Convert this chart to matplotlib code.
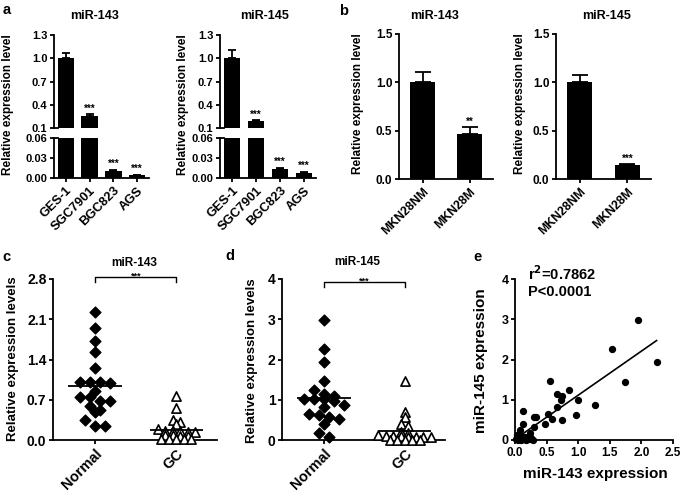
import numpy as np
import matplotlib
matplotlib.use('Agg')
import matplotlib.pyplot as plt
from matplotlib.ticker import FormatStrFormatter
from matplotlib.transforms import blended_transform_factory

# panel a - cell lines, broken y axis
cell_lines = ['GES-1', 'SGC7901', 'BGC823', 'AGS']
a_mir143 = [1.0, 0.255, 0.011, 0.004]
a_mir143_err = [0.064, 0.02, 0.001, 0.001]
a_mir145 = [1.0, 0.19, 0.014, 0.008]
a_mir145_err = [0.11, 0.012, 0.001, 0.001]
a_stars = ['', '***', '***', '***']

# panel b - MKN28 lines
mkn_lines = ['MKN28NM', 'MKN28M']
b_mir143 = [1.0, 0.47]
b_mir143_err = [0.11, 0.07]
b_mir145 = [1.0, 0.14]
b_mir145_err = [0.08, 0.02]
b_stars143 = ['', '**']
b_stars145 = ['', '***']

# panel c / d - tissue samples
groups = ['Normal', 'GC']
c_normal = [2.23, 1.94, 1.73, 1.53, 1.26, 1.01, 1.01, 1.01, 0.99, 0.86,
            0.75, 0.74, 0.68, 0.68, 0.60, 0.53, 0.49, 0.34, 0.24, 0.24]
c_gc = [0.76, 0.55, 0.35, 0.31, 0.27, 0.19, 0.16, 0.15, 0.15, 0.14,
        0.14, 0.09, 0.08, 0.07, 0.07, 0.02, 0.02, 0.02, 0.02, 0.01]
d_normal = [2.97, 2.26, 1.93, 1.47, 1.24, 1.14, 1.10, 1.01, 1.01, 1.01,
            0.98, 0.87, 0.81, 0.65, 0.62, 0.57, 0.52, 0.39, 0.17, 0.08]
d_gc = [1.47, 0.70, 0.57, 0.40, 0.34, 0.21, 0.17, 0.12, 0.10, 0.09,
        0.09, 0.08, 0.08, 0.07, 0.07, 0.01, 0.01, 0.0, 0.0, 0.0]

# panel e - correlation
e_mir143 = [1.95, 1.54, 2.24, 1.74, 0.55, 1.26, 1.00, 0.86, 0.67, 0.75,
            0.72, 0.66, 0.96, 0.74, 0.58, 0.52, 0.48, 0.34, 0.30, 0.305,
            0.12, 0.12, 0.08, 0.23, 0.02, 0.04, 0.05, 0.07, 0.09, 0.10,
            0.12, 0.14, 0.16, 0.18, 0.20, 0.22, 0.24, 0.26, 0.28, 0.03]
e_mir145 = [2.99, 2.25, 1.93, 1.45, 1.47, 0.86, 1.00, 1.24, 1.15, 1.10,
            1.00, 0.82, 0.61, 0.49, 0.53, 0.65, 0.39, 0.57, 0.57, 0.33,
            0.73, 0.40, 0.24, 0.17, 0.02, 0.08, 0.0, 0.04, 0.10, 0.01,
            0.05, 0.02, 0.07, 0.0, 0.03, 0.08, 0.02, 0.05, 0.01, 0.13]

plt.rcParams['font.family'] = ['Liberation Sans', 'DejaVu Sans']
plt.rcParams['font.weight'] = 'bold'
plt.rcParams['axes.linewidth'] = 1.3
for ax_ in ('xtick', 'ytick'):
    plt.rcParams[ax_ + '.major.width'] = 1.3
    plt.rcParams[ax_ + '.major.size'] = 3.2
    plt.rcParams[ax_ + '.major.pad'] = 1.5

W, H = 685, 496
fig = plt.figure(figsize=(W / 100, H / 100), dpi=100)


def rect(x0, y0, x1, y1):
    return [x0 / W, 1 - y1 / H, (x1 - x0) / W, (y1 - y0) / H]


def ftext(x, y, s, **kw):
    kw.setdefault('ha', 'center')
    kw.setdefault('va', 'center')
    kw.setdefault('fontweight', 'bold')
    fig.text(x / W, 1 - y / H, s, **kw)


def clean(ax):
    ax.spines['top'].set_visible(False)
    ax.spines['right'].set_visible(False)


def broken_bars(x0, x1, means, errs, stars):
    top = fig.add_axes(rect(x0, 35, x1, 128))
    bot = fig.add_axes(rect(x0, 138, x1, 178))
    idx = np.arange(len(cell_lines))
    for ax in (top, bot):
        ax.bar(idx, means, width=0.7, color='black',
               yerr=[np.zeros(len(errs)), errs], capsize=3.2,
               error_kw=dict(elinewidth=1.3, capthick=1.3, ecolor='black'))
        ax.set_xlim(-0.5, len(idx) - 0.5)
        clean(ax)
        ax.tick_params(labelsize=8)
    top.set_ylim(0.1, 1.3)
    top.set_yticks([0.1, 0.4, 0.7, 1.0, 1.3])
    top.yaxis.set_major_formatter(FormatStrFormatter('%.1f'))
    top.spines['bottom'].set_visible(False)
    top.tick_params(axis='x', bottom=False, labelbottom=False)
    bot.set_ylim(0, 0.06)
    bot.set_yticks([0, 0.03, 0.06])
    bot.yaxis.set_major_formatter(FormatStrFormatter('%.2f'))
    bot.spines['top'].set_visible(False)
    bot.set_xticks(idx)
    bot.set_xticklabels(cell_lines, rotation=45, ha='right',
                        rotation_mode='anchor', fontsize=9.3)
    # break marks
    for ax, yv in ((top, 0.1), (bot, 0.06)):
        tr = blended_transform_factory(ax.transAxes, ax.transData)
        ax.plot([0, 0.04], [yv, yv], color='black', lw=1.3,
                transform=tr, clip_on=False)
    for i, s in enumerate(stars):
        if s:
            yv = means[i] + errs[i]
            ax = top if yv > 0.1 else bot
            ax.annotate(s, (i, yv), xytext=(0, 0.5), textcoords='offset points',
                        ha='center', va='bottom', fontsize=7,
                        annotation_clip=False)


def simple_bars(x0, x1, means, errs, stars):
    ax = fig.add_axes(rect(x0, 34, x1, 179))
    idx = np.arange(len(mkn_lines))
    ax.bar(idx, means, width=0.52, color='black',
           yerr=[np.zeros(len(errs)), errs], capsize=6,
           error_kw=dict(elinewidth=1.3, capthick=1.3, ecolor='black'))
    ax.set_xlim(-0.5, len(idx) - 0.5)
    ax.set_ylim(0, 1.5)
    ax.set_yticks([0, 0.5, 1.0, 1.5])
    ax.yaxis.set_major_formatter(FormatStrFormatter('%.1f'))
    ax.tick_params(labelsize=8.5)
    ax.set_xticks(idx)
    ax.set_xticklabels(mkn_lines, rotation=45, ha='right',
                       rotation_mode='anchor', fontsize=8.8)
    clean(ax)
    for i, s in enumerate(stars):
        if s:
            ax.annotate(s, (i, means[i] + errs[i]), xytext=(0, 0),
                        textcoords='offset points', ha='center',
                        va='bottom', fontsize=7)


def swarm_x(ax, center, values, step_px, gap_px):
    # Prism-like column scatter: points of nearly equal value share a row,
    # and each row is spread symmetrically around the column centre
    tr = ax.transData
    ppu = tr.transform((1, 0))[0] - tr.transform((0, 0))[0]
    ys = tr.transform(np.column_stack([np.zeros(len(values)), values]))[:, 1]
    rows = []
    for i in np.argsort(-np.asarray(values), kind='stable'):
        if rows and ys[rows[-1][0]] - ys[i] < gap_px:
            rows[-1].append(i)
        else:
            rows.append([i])
    xs = np.zeros(len(values))
    for row in rows:
        n = len(row)
        for j, i in enumerate(row):
            xs[i] = center + (j - (n - 1) / 2) * step_px / ppu
    return xs


def dot_panel(x0, x1, normal, gc, ymax, yticks, fmt, bracket_y):
    ax = fig.add_axes(rect(x0, 279, x1, 440))
    ax.set_xlim(-0.52, 1.5)
    ax.set_ylim(0, ymax)
    xn = swarm_x(ax, 0, normal, 10, 6)
    xg = swarm_x(ax, 1, gc, 7.5, 3.5)
    ax.scatter(xn, normal, marker='D', s=30, color='black', zorder=3,
               clip_on=False)
    ax.scatter(xg, gc, marker='^', s=44, facecolors='white',
               edgecolors='black', linewidths=1.2, zorder=3, clip_on=False)
    ax.hlines([np.mean(normal)], -0.33, 0.33, color='black', lw=1.3, zorder=4)
    ax.hlines([np.mean(gc)], 1 - 0.33, 1 + 0.33, color='black', lw=1.3, zorder=4)
    ax.set_yticks(yticks)
    ax.yaxis.set_major_formatter(FormatStrFormatter(fmt))
    ax.set_xticks([0, 1])
    ax.set_xticklabels(groups, rotation=45, ha='right',
                       rotation_mode='anchor', fontsize=10.5)
    ax.tick_params(axis='y', labelsize=10)
    clean(ax)
    # significance bracket
    leg = ymax * 0.035
    ax.plot([0, 0, 1, 1], [bracket_y - leg, bracket_y, bracket_y, bracket_y - leg],
            color='black', lw=1.0, clip_on=False)
    ax.annotate('***', (0.5, bracket_y), xytext=(0, -1),
                textcoords='offset points', ha='center', va='baseline',
                fontsize=6.5, annotation_clip=False)
    return ax


# ---- panel a ----
broken_bars(54, 149, a_mir143, a_mir143_err, a_stars)
broken_bars(220, 316, a_mir145, a_mir145_err, a_stars)
ftext(95, 16, 'miR-143', fontsize=9)
ftext(265, 16, 'miR-145', fontsize=9)
ftext(8, 105, 'Relative expression level', rotation=90, fontsize=8.5)
ftext(183, 105, 'Relative expression level', rotation=90, fontsize=8.5)

# ---- panel b ----
simple_bars(399, 493, b_mir143, b_mir143_err, b_stars143)
simple_bars(556, 651, b_mir145, b_mir145_err, b_stars145)
ftext(435, 16, 'miR-143', fontsize=9)
ftext(607, 16, 'miR-145', fontsize=9)
ftext(358, 104, 'Relative expression level', rotation=90, fontsize=8.5)
ftext(520, 104, 'Relative expression level', rotation=90, fontsize=8.5)

# ---- panel c / d ----
dot_panel(53, 217, c_normal, c_gc, 2.8, [0, 0.7, 1.4, 2.1, 2.8], '%.1f', 2.84)
dot_panel(282, 445, d_normal, d_gc, 4, [0, 1, 2, 3, 4], '%d', 3.93)
ftext(134, 263, 'miR-143', fontsize=8.5)
ftext(357, 262, 'miR-145', fontsize=8.5)
ftext(13, 359, 'Relative expression levels', rotation=90, fontsize=9.5)
ftext(252, 361, 'Relative expression levels', rotation=90, fontsize=9.5)

# ---- panel e ----
ax = fig.add_axes(rect(515, 279, 673, 440))
ax.scatter(e_mir143, e_mir145, s=18, color='black', zorder=3, clip_on=False)
slope, icpt = np.polyfit(e_mir143, e_mir145, 1)
xl = np.array([min(e_mir143), max(e_mir143)])
ax.plot(xl, slope * xl + icpt, color='black', lw=1.2)
ax.set_xlim(0, 2.5)
ax.set_ylim(0, 4)
ax.set_xticks([0, 0.5, 1.0, 1.5, 2.0, 2.5])
ax.xaxis.set_major_formatter(FormatStrFormatter('%.1f'))
ax.set_yticks([0, 1, 2, 3, 4])
ax.tick_params(axis='x', labelsize=8.5)
ax.tick_params(axis='y', labelsize=9)
clean(ax)
ftext(481, 361, 'miR-145 expression', rotation=90, fontsize=11)
ftext(595, 474, 'miR-143 expression', fontsize=11)
ftext(528, 274, 'r$^\\mathbf{2}$=0.7862', ha='left', fontsize=10.5)
ftext(528, 292, 'P<0.0001', ha='left', fontsize=10.5)

# panel letters
for lx, ly, l in ((7, 10, 'a'), (344, 11, 'b'), (6, 257, 'c'),
                  (230, 256, 'd'), (477, 257, 'e')):
    ftext(lx, ly, l, fontsize=10.5)

fig.savefig('out.png', dpi=100)
